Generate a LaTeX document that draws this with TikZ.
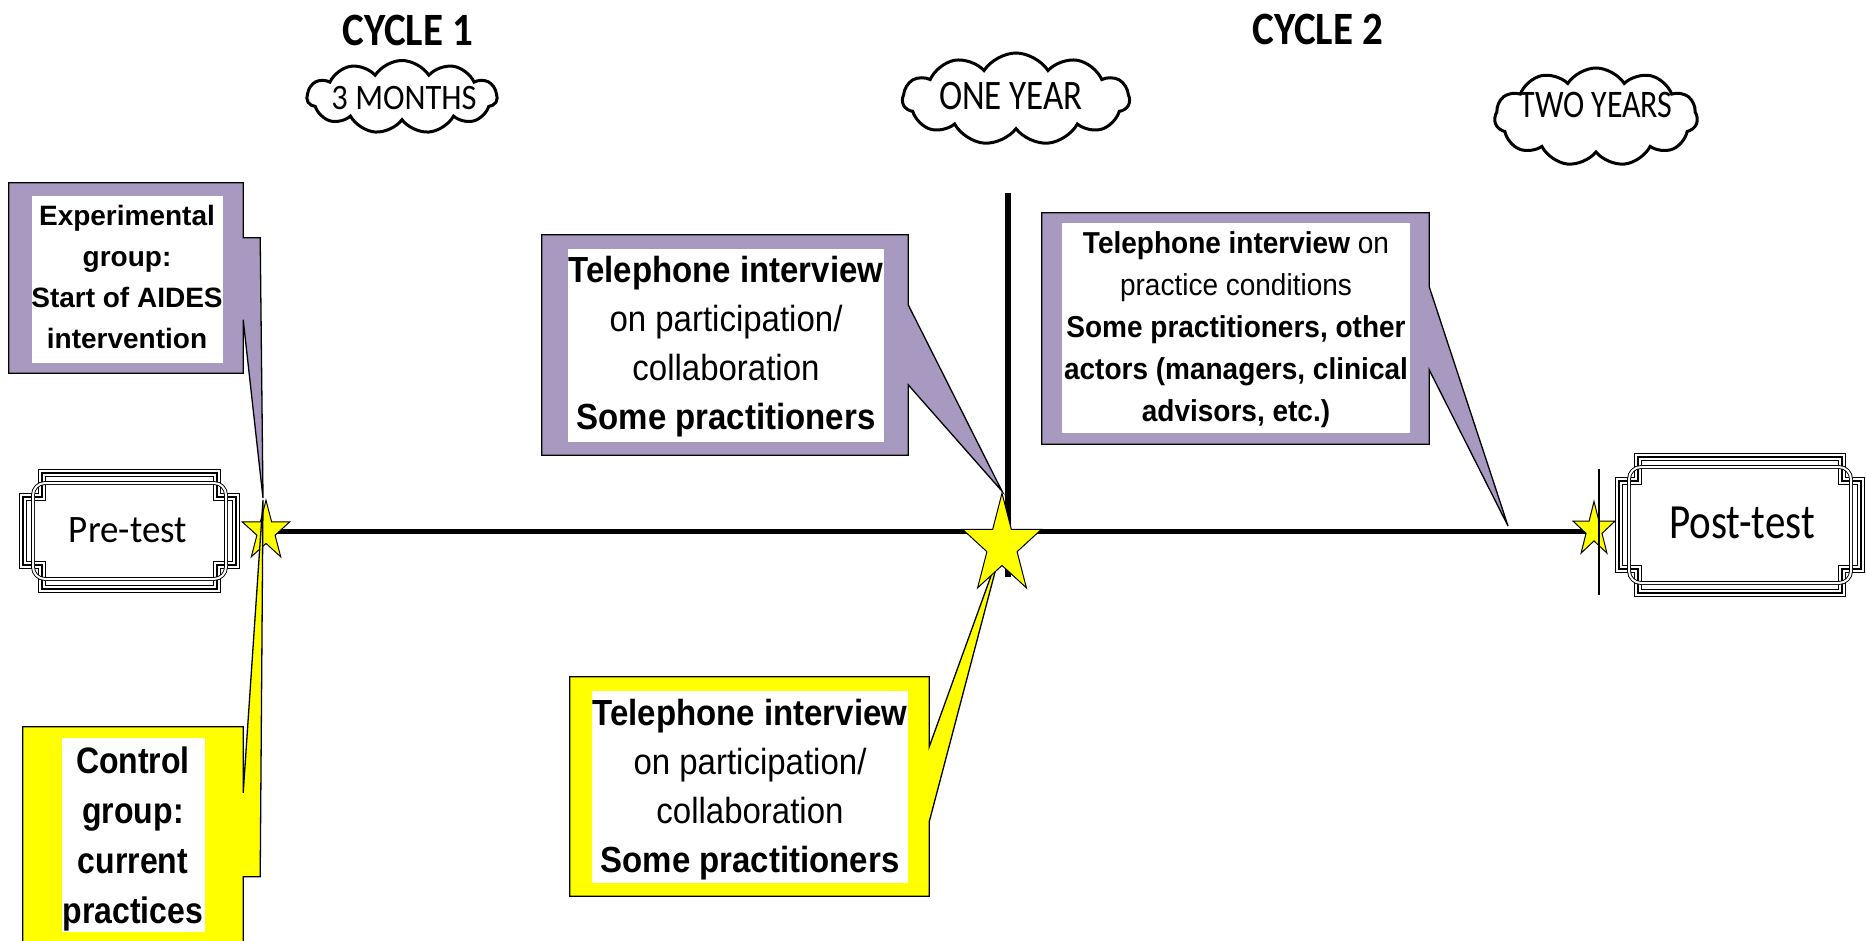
\documentclass[tikz,border=0pt]{standalone}
\usepackage{fontspec}
\setmainfont{Liberation Sans}
\newfontfamily\calib{Carlito}
\usetikzlibrary{shapes.geometric,shapes.symbols,calc}
\definecolor{lav}{RGB}{168,153,193}
\definecolor{yel}{RGB}{255,255,0}
\pgfdeclarelayer{bg}
\pgfsetlayers{bg,main}
\newcommand\plaque[4]{%
  \foreach \w/\c in {8.5/black,6/white,1.3/black}{%
    \draw[line width=\w pt,\c,line join=miter]
      (#1+19,#2) -- (#3-19,#2) -- (#3-19,#2+24) -- (#3,#2+24) -- (#3,#4-24)
      -- (#3-19,#4-24) -- (#3-19,#4) -- (#1+19,#4) -- (#1+19,#4-24)
      -- (#1,#4-24) -- (#1,#2+24) -- (#1+19,#2+24) -- cycle;}
  \draw[line width=0.9pt,double,double distance=2pt,rounded corners=12pt]
    (#1+10,#2+10) rectangle (#3-10,#4-10);
}
% x, y, vertical stretch, node options, name, text
\newcommand\stretchnode[6]{%
  \begin{scope}[shift={(#1,#2)},yscale=#3]
    \node[#4,transform shape] (#5) at (0,0) {#6};
  \end{scope}}
\begin{document}
\begin{tikzpicture}[x=1pt,y=-1pt,
  lavbox/.style={fill=lav,draw=black,line width=1.3pt,line join=miter},
  yelbox/.style={fill=yel,draw=black,line width=1.3pt,line join=miter},
  holder/.style={rectangle,inner sep=0pt,draw=none},
  whitebox/.style={rectangle,fill=white,inner sep=0pt,draw=none},
  ftext/.style={inner sep=0pt,align=center,anchor=north},
  starsh/.style={star,star points=5,star point ratio=2.618,fill=yel,draw=black,line width=1pt,inner sep=0pt},
  cloudsh/.style={cloud,cloud puffs=11,cloud puff arc=115,draw=black,line width=3pt,inner sep=0pt},
  timeline/.style={line width=5pt,black},
  plain/.style={inner sep=0pt},
]
\useasboundingbox (0,0) rectangle (1866,941);

% ---- stars ----
\begin{scope}[shift={(266,531.5)},yscale=1.25]
  \node[starsh,minimum size=50pt,transform shape] (s1) at (0,0) {};
\end{scope}
\begin{scope}[shift={(1002,545.5)},yscale=1.26]
  \node[starsh,minimum size=83pt,transform shape] (s2) at (0,0) {};
\end{scope}
\begin{scope}[shift={(1594,530)},yscale=1.3]
  \node[starsh,minimum size=44pt,transform shape] (s3) at (0,0) {};
\end{scope}

% ---- timeline ----
\coordinate (vtop) at (1008,193);
\coordinate (vbot) at (1008,577);
\coordinate (ptop) at (1599,469);
\coordinate (pbot) at (1599,595);
\begin{pgfonlayer}{bg}
  \draw[timeline] (s1.center) -- (s1.center -| s3.center);
  \draw[line width=6pt] (vtop) -- (vbot);
  % lower yellow callout (behind the star)
  \node[holder,minimum width=359pt,minimum height=219pt] (lowbox) at (749.5,786.5) {};
  \filldraw[yelbox] (lowbox.north west) -- (lowbox.north east)
    -- ($(lowbox.north east)+(0,70)$) -- (s2.center)
    -- ($(lowbox.north east)+(0,145)$) -- (lowbox.south east)
    -- (lowbox.south west) -- cycle;
\end{pgfonlayer}
\draw[line width=1.2pt] (ptop) -- (pbot);

\node[whitebox,minimum width=316pt,minimum height=192pt] (loww) at (750,787) {};
\stretchnode{750}{690.7}{1.1}{ftext,font=\fontsize{33}{44.5}\selectfont}{lowtxt}
  {\strut\textbf{Telephone interview}\\on participation/\\collaboration\\\textbf{Some practitioners}}

% ---- pre-test / post-test plaques ----
\plaque{23}{473}{236}{589}
\stretchnode{128}{530}{1.05}{plain,font=\calib\fontsize{37}{37}\selectfont}{pre}{Pre-test}
\plaque{1619}{457}{1861}{593}
\stretchnode{1742}{523}{1.2}{plain,font=\calib\fontsize{41}{41}\selectfont}{post}{Post-test}

% ---- experimental group callout ----
\coordinate (tipE) at ($(s1.center)+(-3,-33.5)$);
\node[holder,minimum width=234pt,minimum height=190pt] (expbox) at (126,278) {};
\filldraw[lavbox] (expbox.north west) -- (expbox.north east)
  -- ($(expbox.north east)+(0,55)$) -- ++(17,0) -- (tipE)
  -- ($(expbox.north east)+(0,137)$) -- (expbox.south east)
  -- (expbox.south west) -- cycle;
\node[whitebox,minimum width=191pt,minimum height=167pt] (expw) at (127.5,279.5) {};
\node[ftext,font=\bfseries\fontsize{28}{41}\selectfont] (exptxt) at (127,196.3)
  {\strut Experimental\\group:\\Start of AIDES\\intervention};

% ---- control group callout ----
\coordinate (tipC) at ($(s1.center)+(-3,-31.5)$);
\node[holder,minimum width=220pt,minimum height=233pt] (ctlbox) at (133,843.5) {};
\filldraw[yelbox] (ctlbox.north west) -- (ctlbox.north east)
  -- ($(ctlbox.north east)+(0,66)$) -- (tipC)
  -- ($(ctlbox.north east)+(17,150)$) -- ($(ctlbox.north east)+(0,150)$)
  -- (ctlbox.south east) -- (ctlbox.south west) -- cycle;
\node[whitebox,minimum width=143pt,minimum height=194pt] (ctlw) at (133.5,835) {};
\stretchnode{133}{738}{1.15}{ftext,font=\bfseries\fontsize{32}{43.5}\selectfont}{ctltxt}
  {\strut Control\\group:\\current\\practices}

% ---- middle purple callout ----
\node[holder,minimum width=366pt,minimum height=220pt] (midbox) at (725,345) {};
\filldraw[lavbox] (midbox.north west) -- (midbox.north east)
  -- ($(midbox.north east)+(0,70)$) -- (s2.north)
  -- ($(midbox.north east)+(0,150)$) -- (midbox.south east)
  -- (midbox.south west) -- cycle;
\node[whitebox,minimum width=316pt,minimum height=193pt] (midw) at (726,345.5) {};
\stretchnode{726}{247.7}{1.1}{ftext,font=\fontsize{33}{44.5}\selectfont}{midtxt}
  {\strut\textbf{Telephone interview}\\on participation/\\collaboration\\\textbf{Some practitioners}}

% ---- right purple callout ----
\coordinate (tipR) at (1508,526);
\node[holder,minimum width=387pt,minimum height=231pt] (rbox) at (1235.5,328.5) {};
\filldraw[lavbox] (rbox.north west) -- (rbox.north east)
  -- ($(rbox.north east)+(0,74)$) -- (tipR)
  -- ($(rbox.north east)+(0,157)$) -- (rbox.south east)
  -- (rbox.south west) -- cycle;
\node[whitebox,minimum width=348pt,minimum height=210pt] (rw) at (1236,328) {};
\stretchnode{1236}{223.6}{1.08}{ftext,font=\fontsize{28}{38.9}\selectfont}{rtxt}
  {\strut\textbf{Telephone interview} on\\practice conditions\\\textbf{Some practitioners, other}\\\textbf{actors (managers, clinical}\\\textbf{advisors, etc.)}}

% ---- cycles and clouds ----
\stretchnode{408}{30}{1.13}{plain,font=\calib\bfseries\fontsize{41}{41}\selectfont}{cyc1}{CYCLE 1}
\stretchnode{1318}{29}{1.13}{plain,font=\calib\bfseries\fontsize{41}{41}\selectfont}{cyc2}{CYCLE 2}

\node[cloudsh,minimum width=190pt,minimum height=73pt] (c1) at (402,97) {};
\stretchnode{404}{98}{1.1}{plain,font=\calib\fontsize{32.5}{33}\selectfont}{t1}{3 MONTHS}
\node[cloudsh,minimum width=227pt,minimum height=92pt] (c2) at (1016,99) {};
\stretchnode{1011}{96}{1.2}{plain,font=\calib\fontsize{35}{35}\selectfont}{t2}{ONE YEAR}
\node[cloudsh,minimum width=203pt,minimum height=98pt] (c3) at (1596,117) {};
\stretchnode{1596}{105}{1.22}{plain,font=\calib\fontsize{32}{32}\selectfont}{t3}{TWO YEARS}
\end{tikzpicture}
\end{document}
